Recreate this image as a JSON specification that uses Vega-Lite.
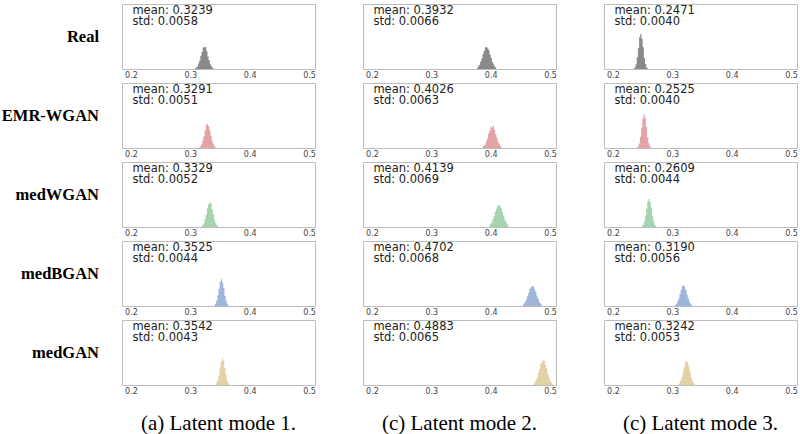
{
  "$schema": "https://vega.github.io/schema/vega-lite/v6.json",
  "padding": {"left": 1, "top": 3, "right": 0, "bottom": 0},
  "background": "white",
  "datasets": {
    "panels": [
      {"p": 1, "model": "Real", "mode": "(a) Latent mode 1.", "t": "mean: 0.3239\nstd: 0.0058"},
      {"p": 2, "model": "Real", "mode": "(c) Latent mode 2.", "t": "mean: 0.3932\nstd: 0.0066"},
      {"p": 3, "model": "Real", "mode": "(c) Latent mode 3.", "t": "mean: 0.2471\nstd: 0.0040"},
      {"p": 4, "model": "EMR-WGAN", "mode": "(a) Latent mode 1.", "t": "mean: 0.3291\nstd: 0.0051"},
      {"p": 5, "model": "EMR-WGAN", "mode": "(c) Latent mode 2.", "t": "mean: 0.4026\nstd: 0.0063"},
      {"p": 6, "model": "EMR-WGAN", "mode": "(c) Latent mode 3.", "t": "mean: 0.2525\nstd: 0.0040"},
      {"p": 7, "model": "medWGAN", "mode": "(a) Latent mode 1.", "t": "mean: 0.3329\nstd: 0.0052"},
      {"p": 8, "model": "medWGAN", "mode": "(c) Latent mode 2.", "t": "mean: 0.4139\nstd: 0.0069"},
      {"p": 9, "model": "medWGAN", "mode": "(c) Latent mode 3.", "t": "mean: 0.2609\nstd: 0.0044"},
      {"p": 10, "model": "medBGAN", "mode": "(a) Latent mode 1.", "t": "mean: 0.3525\nstd: 0.0044"},
      {"p": 11, "model": "medBGAN", "mode": "(c) Latent mode 2.", "t": "mean: 0.4702\nstd: 0.0068"},
      {"p": 12, "model": "medBGAN", "mode": "(c) Latent mode 3.", "t": "mean: 0.3190\nstd: 0.0056"},
      {"p": 13, "model": "medGAN", "mode": "(a) Latent mode 1.", "t": "mean: 0.3542\nstd: 0.0043"},
      {"p": 14, "model": "medGAN", "mode": "(c) Latent mode 2.", "t": "mean: 0.4883\nstd: 0.0065"},
      {"p": 15, "model": "medGAN", "mode": "(c) Latent mode 3.", "t": "mean: 0.3242\nstd: 0.0053"}
    ],
    "hist": [
      {"p":1,"x":0.3079,"h":0.006},{"p":1,"x":0.3099,"h":0.02},{"p":1,"x":0.3119,"h":0.038},{"p":1,"x":0.3139,"h":0.08},{"p":1,"x":0.3159,"h":0.126},{"p":1,"x":0.3179,"h":0.205},{"p":1,"x":0.3199,"h":0.26},{"p":1,"x":0.3219,"h":0.33},{"p":1,"x":0.3239,"h":0.335},{"p":1,"x":0.3259,"h":0.34},{"p":1,"x":0.3279,"h":0.275},{"p":1,"x":0.3299,"h":0.19},{"p":1,"x":0.3319,"h":0.135},{"p":1,"x":0.3339,"h":0.073},{"p":1,"x":0.3359,"h":0.042},{"p":1,"x":0.3379,"h":0.016},{"p":1,"x":0.3399,"h":0.007},
      {"p":2,"x":0.3772,"h":0.017},{"p":2,"x":0.3792,"h":0.038},{"p":2,"x":0.3812,"h":0.062},{"p":2,"x":0.3832,"h":0.112},{"p":2,"x":0.3852,"h":0.158},{"p":2,"x":0.3872,"h":0.23},{"p":2,"x":0.3892,"h":0.278},{"p":2,"x":0.3912,"h":0.33},{"p":2,"x":0.3932,"h":0.34},{"p":2,"x":0.3952,"h":0.318},{"p":2,"x":0.3972,"h":0.29},{"p":2,"x":0.3992,"h":0.22},{"p":2,"x":0.4012,"h":0.168},{"p":2,"x":0.4032,"h":0.104},{"p":2,"x":0.4052,"h":0.068},{"p":2,"x":0.4072,"h":0.034},{"p":2,"x":0.4092,"h":0.018},
      {"p":3,"x":0.2351,"h":0.006},{"p":3,"x":0.2371,"h":0.025},{"p":3,"x":0.2391,"h":0.07},{"p":3,"x":0.2411,"h":0.18},{"p":3,"x":0.2431,"h":0.32},{"p":3,"x":0.2451,"h":0.49},{"p":3,"x":0.2471,"h":0.54},{"p":3,"x":0.2491,"h":0.465},{"p":3,"x":0.2511,"h":0.335},{"p":3,"x":0.2531,"h":0.17},{"p":3,"x":0.2551,"h":0.076},{"p":3,"x":0.2571,"h":0.022},{"p":3,"x":0.2591,"h":0.006},
      {"p":4,"x":0.3151,"h":0.009},{"p":4,"x":0.3171,"h":0.024},{"p":4,"x":0.3191,"h":0.052},{"p":4,"x":0.3211,"h":0.112},{"p":4,"x":0.3231,"h":0.18},{"p":4,"x":0.3251,"h":0.275},{"p":4,"x":0.3271,"h":0.35},{"p":4,"x":0.3291,"h":0.37},{"p":4,"x":0.3311,"h":0.336},{"p":4,"x":0.3331,"h":0.268},{"p":4,"x":0.3351,"h":0.19},{"p":4,"x":0.3371,"h":0.105},{"p":4,"x":0.3391,"h":0.056},{"p":4,"x":0.3411,"h":0.022},{"p":4,"x":0.3431,"h":0.008},
      {"p":5,"x":0.3866,"h":0.013},{"p":5,"x":0.3886,"h":0.03},{"p":5,"x":0.3906,"h":0.053},{"p":5,"x":0.3926,"h":0.1},{"p":5,"x":0.3946,"h":0.148},{"p":5,"x":0.3966,"h":0.222},{"p":5,"x":0.3986,"h":0.27},{"p":5,"x":0.4006,"h":0.33},{"p":5,"x":0.4026,"h":0.31},{"p":5,"x":0.4046,"h":0.34},{"p":5,"x":0.4066,"h":0.28},{"p":5,"x":0.4086,"h":0.21},{"p":5,"x":0.4106,"h":0.158},{"p":5,"x":0.4126,"h":0.094},{"p":5,"x":0.4146,"h":0.058},{"p":5,"x":0.4166,"h":0.027},{"p":5,"x":0.4186,"h":0.014},
      {"p":6,"x":0.2405,"h":0.006},{"p":6,"x":0.2425,"h":0.024},{"p":6,"x":0.2445,"h":0.068},{"p":6,"x":0.2465,"h":0.175},{"p":6,"x":0.2485,"h":0.31},{"p":6,"x":0.2505,"h":0.45},{"p":6,"x":0.2525,"h":0.52},{"p":6,"x":0.2545,"h":0.468},{"p":6,"x":0.2565,"h":0.322},{"p":6,"x":0.2585,"h":0.163},{"p":6,"x":0.2605,"h":0.072},{"p":6,"x":0.2625,"h":0.022},{"p":6,"x":0.2645,"h":0.006},
      {"p":7,"x":0.3189,"h":0.01},{"p":7,"x":0.3209,"h":0.028},{"p":7,"x":0.3229,"h":0.058},{"p":7,"x":0.3249,"h":0.12},{"p":7,"x":0.3269,"h":0.19},{"p":7,"x":0.3289,"h":0.29},{"p":7,"x":0.3309,"h":0.345},{"p":7,"x":0.3329,"h":0.38},{"p":7,"x":0.3349,"h":0.36},{"p":7,"x":0.3369,"h":0.276},{"p":7,"x":0.3389,"h":0.2},{"p":7,"x":0.3409,"h":0.112},{"p":7,"x":0.3429,"h":0.062},{"p":7,"x":0.3449,"h":0.026},{"p":7,"x":0.3469,"h":0.01},
      {"p":8,"x":0.3979,"h":0.022},{"p":8,"x":0.3999,"h":0.045},{"p":8,"x":0.4019,"h":0.072},{"p":8,"x":0.4039,"h":0.122},{"p":8,"x":0.4059,"h":0.17},{"p":8,"x":0.4079,"h":0.238},{"p":8,"x":0.4099,"h":0.28},{"p":8,"x":0.4119,"h":0.33},{"p":8,"x":0.4139,"h":0.34},{"p":8,"x":0.4159,"h":0.32},{"p":8,"x":0.4179,"h":0.292},{"p":8,"x":0.4199,"h":0.228},{"p":8,"x":0.4219,"h":0.178},{"p":8,"x":0.4239,"h":0.115},{"p":8,"x":0.4259,"h":0.077},{"p":8,"x":0.4279,"h":0.042},{"p":8,"x":0.4299,"h":0.023},
      {"p":9,"x":0.2489,"h":0.01},{"p":9,"x":0.2509,"h":0.034},{"p":9,"x":0.2529,"h":0.08},{"p":9,"x":0.2549,"h":0.175},{"p":9,"x":0.2569,"h":0.28},{"p":9,"x":0.2589,"h":0.395},{"p":9,"x":0.2609,"h":0.43},{"p":9,"x":0.2629,"h":0.38},{"p":9,"x":0.2649,"h":0.29},{"p":9,"x":0.2669,"h":0.165},{"p":9,"x":0.2689,"h":0.085},{"p":9,"x":0.2709,"h":0.032},{"p":9,"x":0.2729,"h":0.01},
      {"p":10,"x":0.3405,"h":0.01},{"p":10,"x":0.3425,"h":0.03},{"p":10,"x":0.3445,"h":0.08},{"p":10,"x":0.3465,"h":0.165},{"p":10,"x":0.3485,"h":0.265},{"p":10,"x":0.3505,"h":0.375},{"p":10,"x":0.3525,"h":0.41},{"p":10,"x":0.3545,"h":0.36},{"p":10,"x":0.3565,"h":0.278},{"p":10,"x":0.3585,"h":0.158},{"p":10,"x":0.3605,"h":0.08},{"p":10,"x":0.3625,"h":0.03},{"p":10,"x":0.3645,"h":0.01},
      {"p":11,"x":0.4542,"h":0.019},{"p":11,"x":0.4562,"h":0.038},{"p":11,"x":0.4582,"h":0.066},{"p":11,"x":0.4602,"h":0.1},{"p":11,"x":0.4622,"h":0.158},{"p":11,"x":0.4642,"h":0.205},{"p":11,"x":0.4662,"h":0.265},{"p":11,"x":0.4682,"h":0.29},{"p":11,"x":0.4702,"h":0.31},{"p":11,"x":0.4722,"h":0.3},{"p":11,"x":0.4742,"h":0.255},{"p":11,"x":0.4762,"h":0.214},{"p":11,"x":0.4782,"h":0.15},{"p":11,"x":0.4802,"h":0.108},{"p":11,"x":0.4822,"h":0.063},{"p":11,"x":0.4842,"h":0.036},{"p":11,"x":0.4862,"h":0.02},
      {"p":12,"x":0.303,"h":0.005},{"p":12,"x":0.305,"h":0.015},{"p":12,"x":0.307,"h":0.031},{"p":12,"x":0.309,"h":0.067},{"p":12,"x":0.311,"h":0.112},{"p":12,"x":0.313,"h":0.185},{"p":12,"x":0.315,"h":0.245},{"p":12,"x":0.317,"h":0.305},{"p":12,"x":0.319,"h":0.32},{"p":12,"x":0.321,"h":0.295},{"p":12,"x":0.323,"h":0.25},{"p":12,"x":0.325,"h":0.176},{"p":12,"x":0.327,"h":0.118},{"p":12,"x":0.329,"h":0.063},{"p":12,"x":0.331,"h":0.033},{"p":12,"x":0.333,"h":0.013},{"p":12,"x":0.335,"h":0.005},
      {"p":13,"x":0.3422,"h":0.008},{"p":13,"x":0.3442,"h":0.028},{"p":13,"x":0.3462,"h":0.075},{"p":13,"x":0.3482,"h":0.15},{"p":13,"x":0.3502,"h":0.27},{"p":13,"x":0.3522,"h":0.36},{"p":13,"x":0.3542,"h":0.41},{"p":13,"x":0.3562,"h":0.372},{"p":13,"x":0.3582,"h":0.26},{"p":13,"x":0.3602,"h":0.158},{"p":13,"x":0.3622,"h":0.07},{"p":13,"x":0.3642,"h":0.026},{"p":13,"x":0.3662,"h":0.008},
      {"p":14,"x":0.4723,"h":0.018},{"p":14,"x":0.4743,"h":0.036},{"p":14,"x":0.4763,"h":0.07},{"p":14,"x":0.4783,"h":0.112},{"p":14,"x":0.4803,"h":0.182},{"p":14,"x":0.4823,"h":0.242},{"p":14,"x":0.4843,"h":0.32},{"p":14,"x":0.4863,"h":0.355},{"p":14,"x":0.4883,"h":0.38},{"p":14,"x":0.4903,"h":0.368},{"p":14,"x":0.4923,"h":0.31},{"p":14,"x":0.4943,"h":0.252},{"p":14,"x":0.4963,"h":0.172},{"p":14,"x":0.4983,"h":0.12},{"p":14,"x":0.5003,"h":0.066},{"p":14,"x":0.5023,"h":0.038},{"p":14,"x":0.5043,"h":0.017},
      {"p":15,"x":0.3102,"h":0.011},{"p":15,"x":0.3122,"h":0.028},{"p":15,"x":0.3142,"h":0.065},{"p":15,"x":0.3162,"h":0.12},{"p":15,"x":0.3182,"h":0.19},{"p":15,"x":0.3202,"h":0.272},{"p":15,"x":0.3222,"h":0.35},{"p":15,"x":0.3242,"h":0.37},{"p":15,"x":0.3262,"h":0.34},{"p":15,"x":0.3282,"h":0.282},{"p":15,"x":0.3302,"h":0.198},{"p":15,"x":0.3322,"h":0.114},{"p":15,"x":0.3342,"h":0.06},{"p":15,"x":0.3362,"h":0.029},{"p":15,"x":0.3382,"h":0.011}
    ]
  },
  "data": {"name": "hist"},
  "transform": [
    {"lookup": "p", "from": {"data": {"name": "panels"}, "key": "p", "fields": ["model", "mode", "t"]}}
  ],
  "facet": {
    "row": {
      "field": "model",
      "type": "nominal",
      "sort": ["Real", "EMR-WGAN", "medWGAN", "medBGAN", "medGAN"],
      "header": {
        "title": null,
        "labelOrient": "left",
        "labelAngle": 0,
        "labelAlign": "left",
        "labelBaseline": "middle",
        "labelFont": "Liberation Serif",
        "labelFontWeight": "bold",
        "labelFontSize": 16.5,
        "labelColor": "#000000",
        "labelPadding": 22
      }
    },
    "column": {
      "field": "mode",
      "type": "nominal",
      "header": {
        "title": null,
        "labelOrient": "bottom",
        "labelFont": "Liberation Serif",
        "labelFontSize": 21,
        "labelColor": "#000000",
        "labelPadding": 17
      }
    }
  },
  "spacing": {"row": 2, "column": 46},
  "resolve": {"axis": {"x": "independent"}},
  "spec": {
    "width": 193,
    "height": 65,
    "layer": [
      {
        "mark": {"type": "area", "interpolate": "step"},
        "encoding": {
          "x": {
            "field": "x",
            "type": "quantitative",
            "scale": {"domain": [0.185, 0.51], "nice": false, "zero": false},
            "axis": {
              "values": [0.2, 0.3, 0.4, 0.5],
              "format": ".1f",
              "title": null,
              "grid": false,
              "ticks": false,
              "domain": false,
              "labelFont": "DejaVu Sans",
              "labelFontSize": 8,
              "labelColor": "#444444",
              "labelPadding": 2
            }
          },
          "y": {
            "field": "h",
            "type": "quantitative",
            "scale": {"domain": [0, 1]},
            "axis": null
          },
          "color": {
            "field": "model",
            "type": "nominal",
            "scale": {
              "domain": ["Real", "EMR-WGAN", "medWGAN", "medBGAN", "medGAN"],
              "range": ["#8a8a8a", "#e2a4a6", "#a6d4b0", "#9fb5dc", "#e3d2a6"]
            },
            "legend": null
          }
        }
      },
      {
        "transform": [
          {"aggregate": [{"op": "count", "as": "n"}], "groupby": ["model", "mode", "t"]}
        ],
        "mark": {
          "type": "text",
          "align": "left",
          "baseline": "top",
          "lineBreak": "\n",
          "font": "DejaVu Sans",
          "fontSize": 11.5,
          "lineHeight": 10.5,
          "color": "#222222",
          "dy": 1
        },
        "encoding": {
          "x": {"datum": 0.2025, "type": "quantitative"},
          "y": {"datum": 1, "type": "quantitative"},
          "text": {"field": "t"}
        }
      }
    ]
  },
  "config": {
    "view": {"stroke": "#bdbdbd", "strokeWidth": 1}
  }
}
